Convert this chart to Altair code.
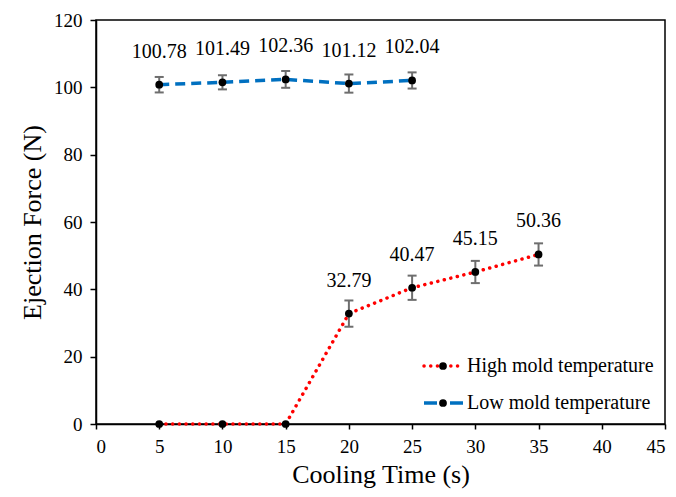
import altair as alt
import pandas as pd

# ---- data ----
series_names = ["High mold temperature", "Low mold temperature"]

cool_high = [5, 10, 15, 20, 25, 30, 35]
force_high = [0, 0, 0, 32.79, 40.47, 45.15, 50.36]
err_high = [0, 0, 0, 3.9, 3.6, 3.3, 3.3]
label_high = ["", "", "", "32.79", "40.47", "45.15", "50.36"]

cool_low = [5, 10, 15, 20, 25]
force_low = [100.78, 101.49, 102.36, 101.12, 102.04]
err_low = [2.3, 2.1, 2.5, 2.7, 2.4]
label_low = ["100.78", "101.49", "102.36", "101.12", "102.04"]

x_ticks = [0, 5, 10, 15, 20, 25, 30, 35, 40, 45]
y_ticks = [0, 20, 40, 60, 80, 100, 120]

FONT = "'Liberation Serif', 'Times New Roman', serif"
RED = "#FF0000"
BLUE = "#0070C0"
GRAY = "#6E6E6E"

rows = []
for t, f, e, lab in zip(cool_high, force_high, err_high, label_high):
    rows.append(dict(t=t, f=f, e=e, lo=f - e, hi=f + e, label=lab, series=series_names[0]))
for t, f, e, lab in zip(cool_low, force_low, err_low, label_low):
    rows.append(dict(t=t, f=f, e=e, lo=f - e, hi=f + e, label=lab, series=series_names[1]))
df = pd.DataFrame(rows)

xs = alt.X("t:Q", scale=alt.Scale(domain=[0, 45], nice=False),
           axis=alt.Axis(values=x_ticks, title="Cooling Time (s)", labelPadding=8,
                         tickSize=5, titlePadding=5, labelFont=FONT, titleFont=FONT))
ys = alt.Y("f:Q", scale=alt.Scale(domain=[0, 120], nice=False),
           axis=alt.Axis(values=y_ticks, title="Ejection Force (N)", labelPadding=8,
                         tickSize=6, titlePadding=8, labelFont=FONT, titleFont=FONT))

base = alt.Chart(df)

line_high = base.transform_filter(alt.datum.series == series_names[0]).mark_line(
    color=RED, strokeWidth=3.5, strokeDash=[0.1, 6.6], strokeCap="round"
).encode(x=xs, y=ys)

line_low = base.transform_filter(alt.datum.series == series_names[1]).mark_line(
    color=BLUE, strokeWidth=3.5, strokeDash=[10, 6]
).encode(x=xs, y=ys)

eb = base.transform_filter(alt.datum.e > 0)
err_rule = eb.mark_rule(color=GRAY, strokeWidth=2).encode(
    x="t:Q", y="lo:Q", y2="hi:Q")
cap_lo = eb.mark_tick(color=GRAY, thickness=2, size=9, orient="horizontal", opacity=1).encode(
    x="t:Q", y="lo:Q")
cap_hi = eb.mark_tick(color=GRAY, thickness=2, size=9, orient="horizontal", opacity=1).encode(
    x="t:Q", y="hi:Q")

pts = base.mark_circle(size=60, color="black", opacity=1).encode(x="t:Q", y="f:Q")

labels = base.transform_filter(alt.datum.label != "").mark_text(
    font=FONT, fontSize=20, dy=-33, baseline="middle", color="black"
).encode(x="t:Q", y="f:Q", text="label:N")

# ---- legend (inside bottom-right) ----
def legend_row(name, color, dash, ypix, cap):
    d = alt.Chart(pd.DataFrame({"label": [name]}))
    r = d.mark_rule(color=color, strokeWidth=3.5, strokeDash=dash, strokeCap=cap).encode(
        x=alt.value(328), x2=alt.value(367), y=alt.value(ypix))
    p = d.mark_circle(size=60, color="black", opacity=1).encode(
        x=alt.value(347), y=alt.value(ypix))
    tx = d.mark_text(font=FONT, fontSize=20, align="left", baseline="middle", color="black").encode(
        x=alt.value(371), y=alt.value(ypix), text="label:N")
    return [r, p, tx]

leg = legend_row(series_names[0], RED, [0.1, 6.6], 346, "round") + \
      legend_row(series_names[1], BLUE, [13, 13], 383, "butt")

chart = alt.layer(line_high, line_low, err_rule, cap_lo, cap_hi, pts, labels, *leg).properties(
    width=569, height=404,
    autosize="none",
    padding={"left": 88, "top": 12, "right": 3, "bottom": 65},
).configure_view(
    stroke="black", strokeWidth=1.5
).configure_axis(
    grid=False, domainColor="black", domainWidth=1.5, tickColor="black", tickWidth=1.5,
    labelFont=FONT, labelFontSize=19, labelColor="black",
    titleFont=FONT, titleFontSize=26, titleFontWeight="normal", titleColor="black"
).configure_text(font=FONT)

chart.save("out.html", embed_options={"renderer": "svg", "actions": False})
